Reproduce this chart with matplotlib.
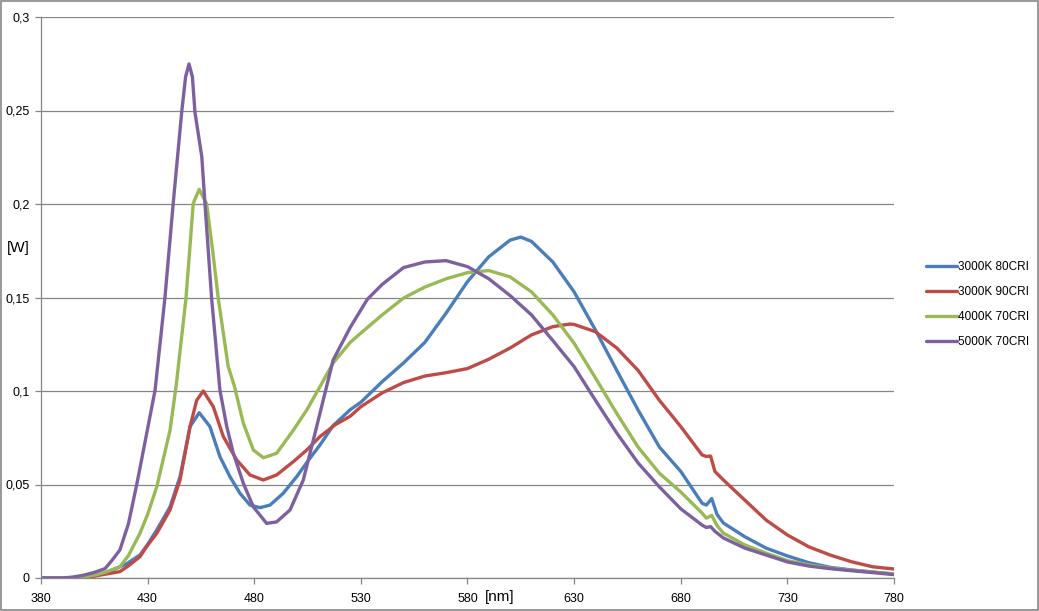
import matplotlib
matplotlib.use("Agg")
import matplotlib.pyplot as plt
from matplotlib.patches import Rectangle
from matplotlib.ticker import FuncFormatter

# spectra (wavelength [nm], power [W])
blue_nm = [380, 390, 400, 405, 410, 415, 420, 426.4, 430, 434.3, 440.5, 445.2, 449.9,
           454.2, 459.2, 463.9, 468.6, 473.3, 478, 482.7, 487.4, 493.6, 499.9, 506.1,
           510.8, 517, 525, 530, 540, 550, 560, 570, 580, 590, 600, 605, 610, 620, 630,
           640, 650, 660, 670, 680, 690, 692, 694.5, 697, 700, 710, 720, 730, 740, 750,
           760, 770, 780]
blue_w = [0, 0, 0.0005, 0.0012, 0.0025, 0.005, 0.0075, 0.0123, 0.018, 0.0257, 0.038,
          0.0542, 0.081, 0.0884, 0.081, 0.0649, 0.0542, 0.0453, 0.039, 0.0376, 0.039,
          0.0453, 0.0542, 0.064, 0.0711, 0.0815, 0.09, 0.094, 0.105, 0.115, 0.126, 0.1417,
          0.1585, 0.1718, 0.1807, 0.1823, 0.18, 0.169, 0.153, 0.1326, 0.111, 0.0898, 0.070,
          0.057, 0.040, 0.039, 0.0425, 0.034, 0.0294, 0.0221, 0.016, 0.0118, 0.0082,
          0.0057, 0.0043, 0.0032, 0.0021]

red_nm = [380, 390, 400, 405, 410, 417, 421, 426.4, 430, 434.3, 440.5, 445.2, 449.9,
          453, 456.1, 460.8, 465.5, 471.8, 478, 484.2, 490.5, 498.3, 504.6, 510.8, 518,
          525, 530, 540, 550, 560, 570, 580, 590, 600, 610, 620, 628, 630, 640, 650, 660,
          670, 680, 690, 692, 694, 696, 700, 710, 720, 730, 740, 750, 760, 770, 780]
red_w = [0, 0, 0.0004, 0.001, 0.002, 0.0034, 0.0065, 0.0114, 0.0175, 0.0239, 0.0364,
         0.0524, 0.081, 0.095, 0.1, 0.0916, 0.0756, 0.0631, 0.0551, 0.0524, 0.0551,
         0.0622, 0.0684, 0.0756, 0.082, 0.0865, 0.0916, 0.099, 0.1045, 0.108, 0.1098,
         0.112, 0.117, 0.123, 0.130, 0.1344, 0.1358, 0.1356, 0.1317, 0.123, 0.111, 0.095,
         0.081, 0.0658, 0.065, 0.0652, 0.057, 0.0524, 0.0417, 0.031, 0.023, 0.0167,
         0.0123, 0.0087, 0.006, 0.0048]

green_nm = [380, 395, 400, 405, 410, 417, 421, 426.4, 430, 434.3, 440.5, 443.4, 448,
            451.4, 454.2, 457.7, 460.5, 463.1, 467.8, 470.6, 474.9, 479.6, 484.3, 490.5,
            498.3, 504.6, 510.8, 517, 525, 530, 540, 550, 560, 570, 580, 590, 600, 610,
            620, 630, 640, 650, 660, 670, 680, 690, 692, 694.5, 697, 700, 710, 720, 730,
            740, 750, 760, 770, 780]
green_w = [0, 0, 0.0005, 0.0015, 0.003, 0.006, 0.012, 0.0239, 0.034, 0.0488, 0.079,
           0.103, 0.1497, 0.2004, 0.2078, 0.2, 0.175, 0.1497, 0.113, 0.103, 0.0827, 0.0684,
           0.0643, 0.0667, 0.079, 0.0898, 0.1023, 0.115, 0.126, 0.131, 0.1407, 0.1497,
           0.1556, 0.160, 0.1633, 0.1644, 0.161, 0.153, 0.1407, 0.1255, 0.107, 0.088,
           0.070, 0.056, 0.046, 0.0347, 0.032, 0.0335, 0.028, 0.024, 0.0177, 0.0133,
           0.0093, 0.007, 0.0053, 0.0042, 0.0032, 0.0022]

purple_nm = [380, 390, 395, 400, 405, 410, 413, 417, 421, 424.9, 429, 433.5, 438.1, 442,
             446, 447.8, 449.4, 451, 452.2, 455.4, 456.9, 460, 463.9, 467.1, 470.2, 474.9,
             479.6, 485.8, 490.5, 496.8, 503, 507.7, 510.8, 517, 525, 533, 540, 550, 560,
             570, 580, 590, 600, 610, 620, 630, 640, 650, 660, 670, 680, 690, 692, 694,
             696, 700, 710, 720, 730, 740, 750, 760, 770, 780]
purple_w = [0, 0, 0.0005, 0.0015, 0.003, 0.005, 0.009, 0.015, 0.029, 0.05, 0.074, 0.1005,
            0.1497, 0.2004, 0.2494, 0.268, 0.2749, 0.268, 0.249, 0.2253, 0.2, 0.1497,
            0.1005, 0.081, 0.0667, 0.0506, 0.038, 0.0292, 0.030, 0.0364, 0.0524, 0.0738,
            0.088, 0.1166, 0.134, 0.149, 0.157, 0.166, 0.169, 0.1697, 0.1665, 0.160, 0.151,
            0.1407, 0.127, 0.113, 0.095, 0.0775, 0.0615, 0.0487, 0.037, 0.0283, 0.027,
            0.0275, 0.025, 0.0214, 0.016, 0.0123, 0.0086, 0.0064, 0.005, 0.0039, 0.0029,
            0.0018]

labels = ["3000K 80CRI", "3000K 90CRI", "4000K 70CRI", "5000K 70CRI"]
colors = ["#4A7EBB", "#BE4B48", "#98B954", "#7D60A0"]

x_ticks = [380, 430, 480, 530, 580, 630, 680, 730, 780]
y_ticks = [0, 0.05, 0.1, 0.15, 0.2, 0.25, 0.3]

plt.rcParams["font.family"] = ["Liberation Sans", "DejaVu Sans"]

fig = plt.figure(figsize=(10.39, 6.11), dpi=100)
ax = fig.add_axes([41 / 1039, 33 / 611, 853 / 1039, 561 / 611])

series = [(blue_nm, blue_w), (red_nm, red_w), (green_nm, green_w), (purple_nm, purple_w)]
lines = []
for (nm, w), label, color in zip(series, labels, colors):
    line, = ax.plot(nm, w, color=color, linewidth=2.4, label=label,
                    solid_joinstyle="round", solid_capstyle="round")
    lines.append(line)

ax.set_xlim(380, 780)
ax.set_ylim(0, 0.3)
ax.set_xticks(x_ticks)
ax.set_yticks(y_ticks)
ax.yaxis.set_major_formatter(
    FuncFormatter(lambda v, pos: ("%g" % round(v, 2)).replace(".", ","))
)
ax.grid(True, axis="y", color="#868686", linewidth=0.9)
ax.set_axisbelow(True)

for side in ["top", "right"]:
    ax.spines[side].set_visible(False)
for side in ["left", "bottom"]:
    ax.spines[side].set_color("#868686")
    ax.spines[side].set_linewidth(0.9)

ax.tick_params(axis="both", colors="#868686", labelcolor="black", labelsize=9,
               length=4, width=0.9, direction="out")
ax.tick_params(axis="x", pad=7)
ax.tick_params(axis="y", pad=4)

fig.text(18 / 1039, 1 - 248 / 611, "[W]", fontsize=11, ha="center", va="center")
fig.text(500 / 1039, 1 - 597 / 611, "[nm]", fontsize=11, ha="center", va="center")

ax.legend(handles=lines, loc="center left", bbox_to_anchor=(1.025, 0.4875),
          frameon=False, fontsize=8.5, handlelength=2.6, handletextpad=0.15,
          labelspacing=1.1)

fig.patches.append(Rectangle((0.001, 0.001), 0.998, 0.998, transform=fig.transFigure,
                             fill=False, edgecolor="#868686", linewidth=1.2))

fig.savefig("out.png", dpi=100)
